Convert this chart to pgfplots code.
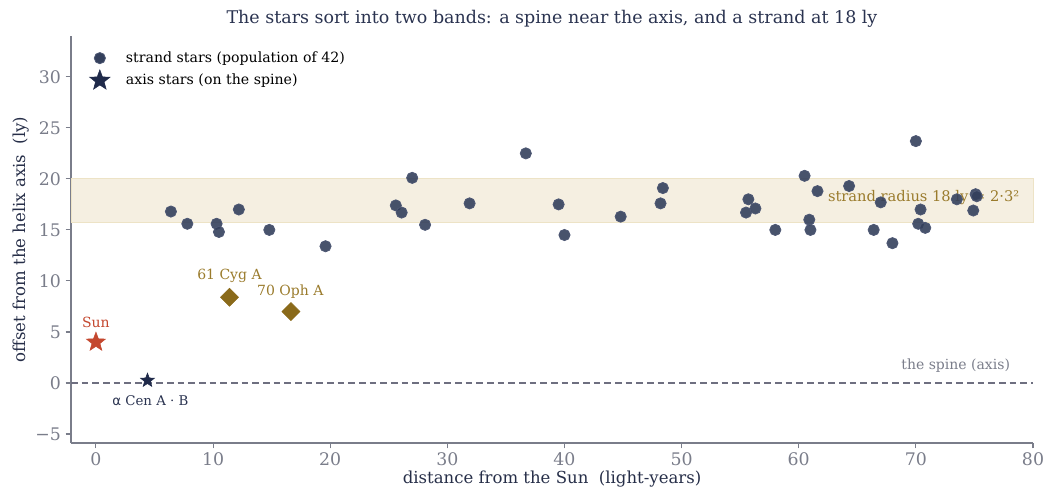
\documentclass[border=0pt]{standalone}
\usepackage{pgfplots}
\pgfplotsset{compat=1.18}
\usepackage{fontspec}
\setmainfont{DejaVu Serif}
\newfontfamily\symfont{DejaVu Sans}
\definecolor{navy}{HTML}{34405C}
\definecolor{navyedge}{HTML}{4E5874}
\definecolor{titlec}{HTML}{2A3350}
\definecolor{tickc}{HTML}{7A7D8A}
\definecolor{sunred}{HTML}{C4482F}
\definecolor{gold}{HTML}{8A6A1A}
\definecolor{goldtxt}{HTML}{9A7B2C}
\definecolor{bandfill}{HTML}{F5EFE1}
\definecolor{bandedge}{HTML}{EDE3C6}
\definecolor{spinec}{HTML}{6E6F80}
\definecolor{starnavy}{HTML}{1F2A4A}
\pgfdeclareplotmark{fstar}{%
  \pgfpathmoveto{\pgfpointpolar{90}{\pgfplotmarksize}}%
  \pgfpathlineto{\pgfpointpolar{126}{0.42\pgfplotmarksize}}%
  \pgfpathlineto{\pgfpointpolar{162}{\pgfplotmarksize}}%
  \pgfpathlineto{\pgfpointpolar{198}{0.42\pgfplotmarksize}}%
  \pgfpathlineto{\pgfpointpolar{234}{\pgfplotmarksize}}%
  \pgfpathlineto{\pgfpointpolar{270}{0.42\pgfplotmarksize}}%
  \pgfpathlineto{\pgfpointpolar{306}{\pgfplotmarksize}}%
  \pgfpathlineto{\pgfpointpolar{342}{0.42\pgfplotmarksize}}%
  \pgfpathlineto{\pgfpointpolar{18}{\pgfplotmarksize}}%
  \pgfpathlineto{\pgfpointpolar{54}{0.42\pgfplotmarksize}}%
  \pgfpathclose
  \pgfusepathqfillstroke
}
\begin{document}
\begin{tikzpicture}
\path[use as bounding box] (-53.25pt,-42.75pt) rectangle (730.5pt,332.25pt);
\begin{axis}[
  at={(0,0)}, anchor=south west,
  scale only axis, width=721.5pt, height=305.25pt,
  xmin=-2.13, xmax=80, ymin=-5.88, ymax=34.0,
  axis x line*=bottom, axis y line*=left,
  axis line style={tickc, line width=0.8pt},
  xtick={0,10,...,80}, ytick={-5,0,5,...,30},
  yticklabels={−5,0,5,10,15,20,25,30},
  tick style={tickc, line width=0.8pt},
  tick align=outside, major tick length=4pt,
  ticklabel style={font=\fontsize{13}{15}\selectfont, text=tickc},
  /pgf/number format/assume math mode=true,
  title={The stars sort into two bands: a spine near the axis, and a strand at 18 ly},
  title style={font=\fontsize{13.1}{15}\selectfont, text=titlec, yshift=-3pt},
  xlabel={distance from the Sun\ \ (light-years)},
  ylabel={offset from the helix axis\ \ (ly)},
  label style={font=\fontsize{12.4}{14}\selectfont, text=titlec!90!black},
  xlabel style={yshift=3pt},
  ylabel style={yshift=-2pt},
  legend style={draw=none, fill=none, at={(0.015,0.975)}, anchor=north west,
    font=\fontsize{10.6}{13}\selectfont, row sep=2pt, column sep=10pt},
  legend cell align=left,
  clip=false,
]
% band
\addplot[fill=bandfill, draw=bandedge, line width=0.6pt, forget plot]
  coordinates {(-2.13,15.7) (80,15.7) (80,20) (-2.13,20)} -- cycle;
% spine
\addplot[spinec, dashed, line width=0.9pt, dash pattern=on 5pt off 3pt, forget plot]
  coordinates {(-2.13,0) (80,0)};
\node[anchor=west, text=goldtxt, font=\fontsize{11}{13}\selectfont] at (axis cs:62.1,18.2) {strand radius 18 ly = 2·3²};
\node[text=tickc, font=\fontsize{10.5}{12}\selectfont] at (axis cs:73.4,1.7) {the spine (axis)};
% legend images
\addlegendimage{only marks, mark=*, mark size=4.2pt, mark options={fill=navy, draw=navyedge, line width=0.6pt}}
\addlegendentry{strand stars (population of 42)}
\addlegendimage{only marks, mark=fstar, mark size=8pt, mark options={fill=starnavy, draw=starnavy}}
\addlegendentry{axis stars (on the spine)}
% strand stars
\addplot[only marks, mark=*, mark size=4.2pt, mark options={fill=navy, fill opacity=0.9, draw=navyedge, line width=0.6pt}, forget plot]
coordinates {
(6.4,16.8) (7.8,15.6) (10.3,15.6) (10.5,14.8) (12.2,17.0) (14.8,15.0) (19.6,13.4)
(25.6,17.4) (26.1,16.7) (27.0,20.1) (28.1,15.5) (31.9,17.6) (36.7,22.5) (39.5,17.5)
(40.0,14.5) (44.8,16.3) (48.2,17.6) (48.4,19.1)
(55.7,18.0) (55.5,16.7) (56.3,17.1) (58.0,15.0) (60.5,20.3) (60.9,16.0) (61.0,15.0)
(61.6,18.8) (64.3,19.3) (66.4,15.0) (67.0,17.7) (68.0,13.7) (70.0,23.7) (70.4,17.0)
(70.2,15.6) (70.8,15.2) (73.5,18.0) (75.1,18.5) (75.2,18.3) (74.9,16.9)
};
% alpha Cen
\addplot[only marks, mark=fstar, mark size=5.5pt, mark options={fill=starnavy, draw=starnavy}, forget plot]
  coordinates {(4.4,0.25)};
\node[anchor=west, text=titlec, font=\fontsize{10}{12}\selectfont] at (axis cs:1.0,-1.75) {{\symfont α} Cen A · B};
% Sun
\addplot[only marks, mark=fstar, mark size=7.5pt, mark options={fill=sunred, draw=sunred}, forget plot]
  coordinates {(0,4.0)};
\node[text=sunred, font=\fontsize{10.5}{12}\selectfont] at (axis cs:0,5.9) {Sun};
% 61 Cyg A, 70 Oph A
\addplot[only marks, mark=square*, mark size=4.8pt, mark options={rotate=45, fill=gold, draw=gold}, forget plot]
  coordinates {(11.4,8.4) (16.65,7.0)};
\node[text=goldtxt, font=\fontsize{10.5}{12}\selectfont] at (axis cs:11.4,10.45) {61 Cyg A};
\node[text=goldtxt, font=\fontsize{10.5}{12}\selectfont] at (axis cs:16.6,8.95) {70 Oph A};
\end{axis}
\end{tikzpicture}
\end{document}
